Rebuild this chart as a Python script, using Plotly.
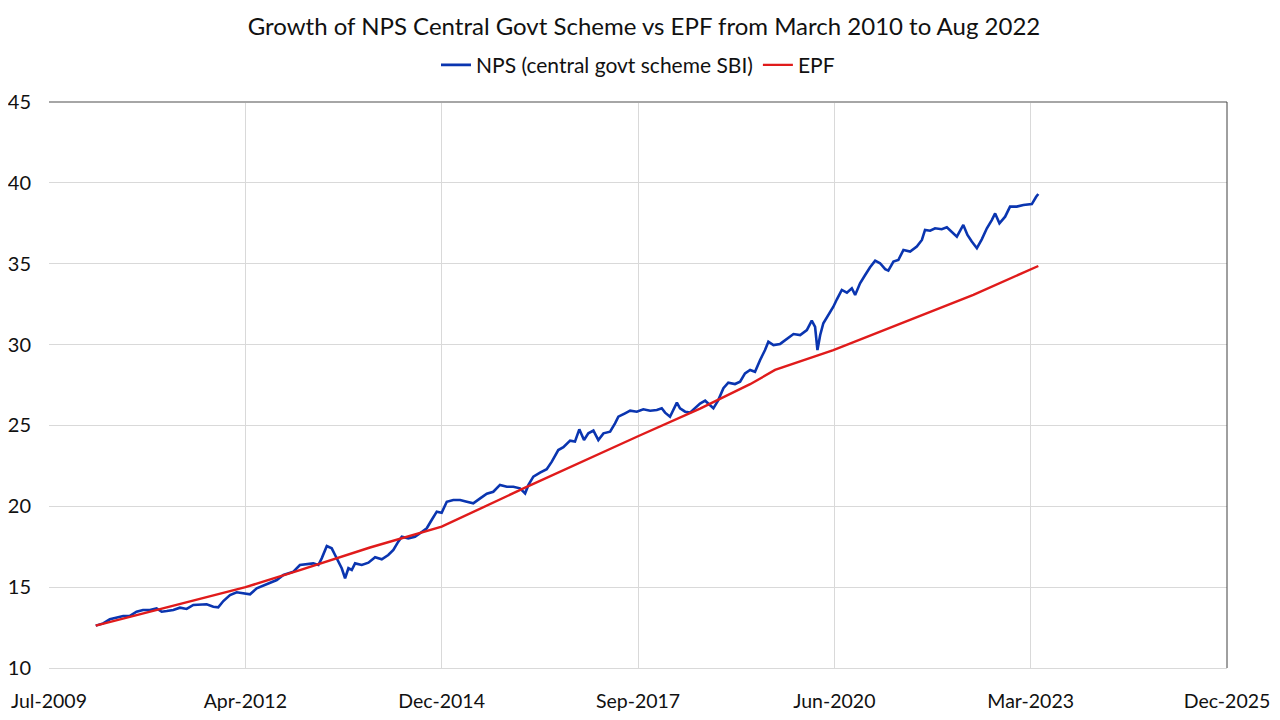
import plotly.graph_objects as go

# NPS (central govt scheme SBI) NAV
nps_dates = [
    "2010-03-01", "2010-04-08", "2010-05-12", "2010-06-15", "2010-07-19", "2010-08-22",
    "2010-09-25", "2010-10-28", "2010-12-02", "2011-01-05", "2011-01-31", "2011-02-26",
    "2011-03-31", "2011-05-04", "2011-06-07", "2011-07-11", "2011-08-14", "2011-09-17",
    "2011-10-21", "2011-11-15", "2011-12-11", "2012-01-14", "2012-02-17", "2012-03-22",
    "2012-04-25", "2012-05-29", "2012-07-02", "2012-08-05", "2012-09-08", "2012-10-12",
    "2012-11-15", "2012-12-02", "2013-01-04", "2013-02-07", "2013-03-13", "2013-04-08",
    "2013-04-25", "2013-05-21", "2013-06-15", "2013-07-02", "2013-07-19", "2013-08-05",
    "2013-08-22", "2013-09-08", "2013-09-25", "2013-10-12", "2013-11-15", "2013-12-19",
    "2014-01-22", "2014-02-25", "2014-03-30", "2014-04-25", "2014-05-20", "2014-06-07",
    "2014-07-10", "2014-08-13", "2014-09-08", "2014-10-12", "2014-11-06", "2014-12-02",
    "2014-12-27", "2015-01-22", "2015-02-24", "2015-03-31", "2015-05-04", "2015-06-06",
    "2015-07-11", "2015-08-14", "2015-09-16", "2015-10-20", "2015-11-24", "2015-12-27",
    "2016-01-30", "2016-02-25", "2016-03-13", "2016-04-07", "2016-05-11", "2016-06-14",
    "2016-07-10", "2016-08-12", "2016-09-07", "2016-10-11", "2016-11-05", "2016-11-27",
    "2016-12-21", "2017-01-12", "2017-02-07", "2017-03-04", "2017-03-30", "2017-05-03",
    "2017-05-28", "2017-06-14", "2017-07-18", "2017-08-13", "2017-09-16", "2017-10-19",
    "2017-11-23", "2017-12-27", "2018-01-21", "2018-02-07", "2018-03-04", "2018-04-08",
    "2018-04-24", "2018-05-20", "2018-06-14", "2018-07-10", "2018-08-04", "2018-08-30",
    "2018-09-24", "2018-10-11", "2018-11-05", "2018-12-01", "2018-12-26", "2019-01-29",
    "2019-02-24", "2019-03-21", "2019-04-16", "2019-05-11", "2019-06-06", "2019-07-01",
    "2019-07-18", "2019-08-13", "2019-09-16", "2019-10-20", "2019-11-23", "2019-12-27",
    "2020-01-30", "2020-02-24", "2020-03-12", "2020-03-24", "2020-04-07", "2020-04-23",
    "2020-05-19", "2020-06-13", "2020-07-01", "2020-07-26", "2020-08-21", "2020-09-15",
    "2020-10-02", "2020-10-27", "2020-11-22", "2020-12-17", "2021-01-12", "2021-02-06",
    "2021-03-04", "2021-03-20", "2021-04-15", "2021-05-10", "2021-06-05", "2021-07-09",
    "2021-08-12", "2021-09-07", "2021-09-23", "2021-10-19", "2021-11-13", "2021-12-17",
    "2022-01-12", "2022-02-06", "2022-03-04", "2022-04-06", "2022-04-27", "2022-05-19",
    "2022-06-14", "2022-07-09", "2022-08-04", "2022-08-29", "2022-09-15", "2022-10-07",
    "2022-11-05", "2022-11-30", "2023-01-03", "2023-02-06", "2023-03-21", "2023-04-12",
    "2023-04-23",
]
nps_values = [
    12.62, 12.76, 13.01, 13.11, 13.22, 13.22,
    13.48, 13.59, 13.59, 13.69, 13.48, 13.52,
    13.59, 13.73, 13.65, 13.90, 13.94, 13.94,
    13.79, 13.75, 14.14, 14.51, 14.68, 14.62,
    14.56, 14.93, 15.09, 15.24, 15.44, 15.75,
    15.86, 15.96, 16.37, 16.43, 16.47, 16.37,
    16.78, 17.54, 17.40, 16.99, 16.57, 16.17,
    15.55, 16.17, 16.06, 16.47, 16.37, 16.51,
    16.85, 16.72, 16.99, 17.30, 17.81, 18.12,
    18.02, 18.12, 18.33, 18.64, 19.15, 19.67,
    19.60, 20.28, 20.39, 20.39, 20.28, 20.18,
    20.49, 20.78, 20.90, 21.32, 21.21, 21.21,
    21.11, 20.80, 21.32, 21.83, 22.08, 22.29,
    22.76, 23.48, 23.65, 24.06, 24.00, 24.76,
    24.10, 24.51, 24.68, 24.10, 24.51, 24.61,
    25.13, 25.54, 25.75, 25.91, 25.85, 26.00,
    25.91, 25.95, 26.06, 25.79, 25.54, 26.41,
    26.06, 25.85, 25.79, 26.06, 26.35, 26.53,
    26.26, 26.06, 26.57, 27.30, 27.64, 27.56,
    27.70, 28.22, 28.43, 28.32, 29.05, 29.66,
    30.18, 29.97, 30.04, 30.33, 30.65, 30.59,
    30.90, 31.48, 31.10, 29.66, 30.59, 31.32,
    31.83, 32.34, 32.80, 33.38, 33.21, 33.48,
    33.07, 33.79, 34.30, 34.78, 35.19, 35.03,
    34.66, 34.57, 35.13, 35.23, 35.85, 35.75,
    36.06, 36.47, 37.09, 37.04, 37.19, 37.13,
    37.25, 36.98, 36.67, 37.40, 36.78, 36.37,
    35.96, 36.51, 37.19, 37.70, 38.11, 37.50,
    37.91, 38.53, 38.53, 38.63, 38.69, 39.14,
    39.31,
]

# EPF corpus growth
epf_dates = [
    "2010-03-01", "2010-09-17", "2011-03-31", "2011-10-05", "2012-04-02", "2013-01-04",
    "2013-12-27", "2014-12-27", "2016-02-25", "2017-09-22", "2018-08-04", "2019-04-16",
    "2019-08-21", "2020-06-13", "2021-05-19", "2022-05-27", "2023-04-23",
]
epf_values = [
    12.62, 13.24, 13.84, 14.45, 15.00, 16.05,
    17.45, 18.74, 21.15, 24.33, 26.04, 27.55,
    28.43, 29.66, 31.28, 33.07, 34.86,
]

tick_dates = ["2009-07-06", "2012-04-01", "2014-12-27", "2017-09-22",
              "2020-06-18", "2023-03-15", "2025-12-09"]

font_family = "Lato, Open Sans, sans-serif"
blue = "#0a35b0"
red = "#e01b1b"

fig = go.Figure()
fig.add_trace(go.Scatter(
    x=nps_dates, y=nps_values, mode="lines",
    name="NPS (central govt scheme SBI)",
    line=dict(color=blue, width=2.6),
))
fig.add_trace(go.Scatter(
    x=epf_dates, y=epf_values, mode="lines",
    name="EPF",
    line=dict(color=red, width=2.4),
))

# page body adds an 8px offset, so the figure is 1272x712
fig.update_layout(
    width=1272, height=712,
    paper_bgcolor="white", plot_bgcolor="white",
    margin=dict(l=41, r=53, t=94, b=52),
    font=dict(family=font_family, color="#111111", size=19),
    title=dict(
        text="Growth of NPS Central Govt Scheme vs EPF from March 2010 to Aug 2022",
        x=0.5, xanchor="center", y=0.974, yanchor="middle",
        font=dict(size=24, color="#111111"),
    ),
    legend=dict(
        orientation="h", x=0.5, xanchor="center", y=1.065, yanchor="middle",
        font=dict(size=21), itemwidth=30, tracegroupgap=0,
    ),
    xaxis=dict(
        type="date",
        range=[tick_dates[0], tick_dates[-1]],
        tickvals=tick_dates, tickformat="%b-%Y",
        showgrid=True, gridcolor="#d9d9d9", gridwidth=1,
        showline=True, linecolor="#d9d9d9", linewidth=1,
        ticks="", ticklabelstandoff=16, automargin=False,
        tickfont=dict(size=19.5),
    ),
    yaxis=dict(
        range=[10, 45], dtick=5,
        showgrid=True, gridcolor="#d9d9d9", gridwidth=1,
        zeroline=False, showline=False,
        ticks="", ticklabelstandoff=17, automargin=False,
        tickfont=dict(size=20),
    ),
    shapes=[
        dict(type="line", xref="paper", yref="paper", x0=0, x1=1, y0=1, y1=1,
             line=dict(color="#a6a6a6", width=2)),
        dict(type="line", xref="paper", yref="paper", x0=1, x1=1, y0=0, y1=1,
             line=dict(color="#404040", width=1)),
    ],
)

fig.write_html("out.html")
